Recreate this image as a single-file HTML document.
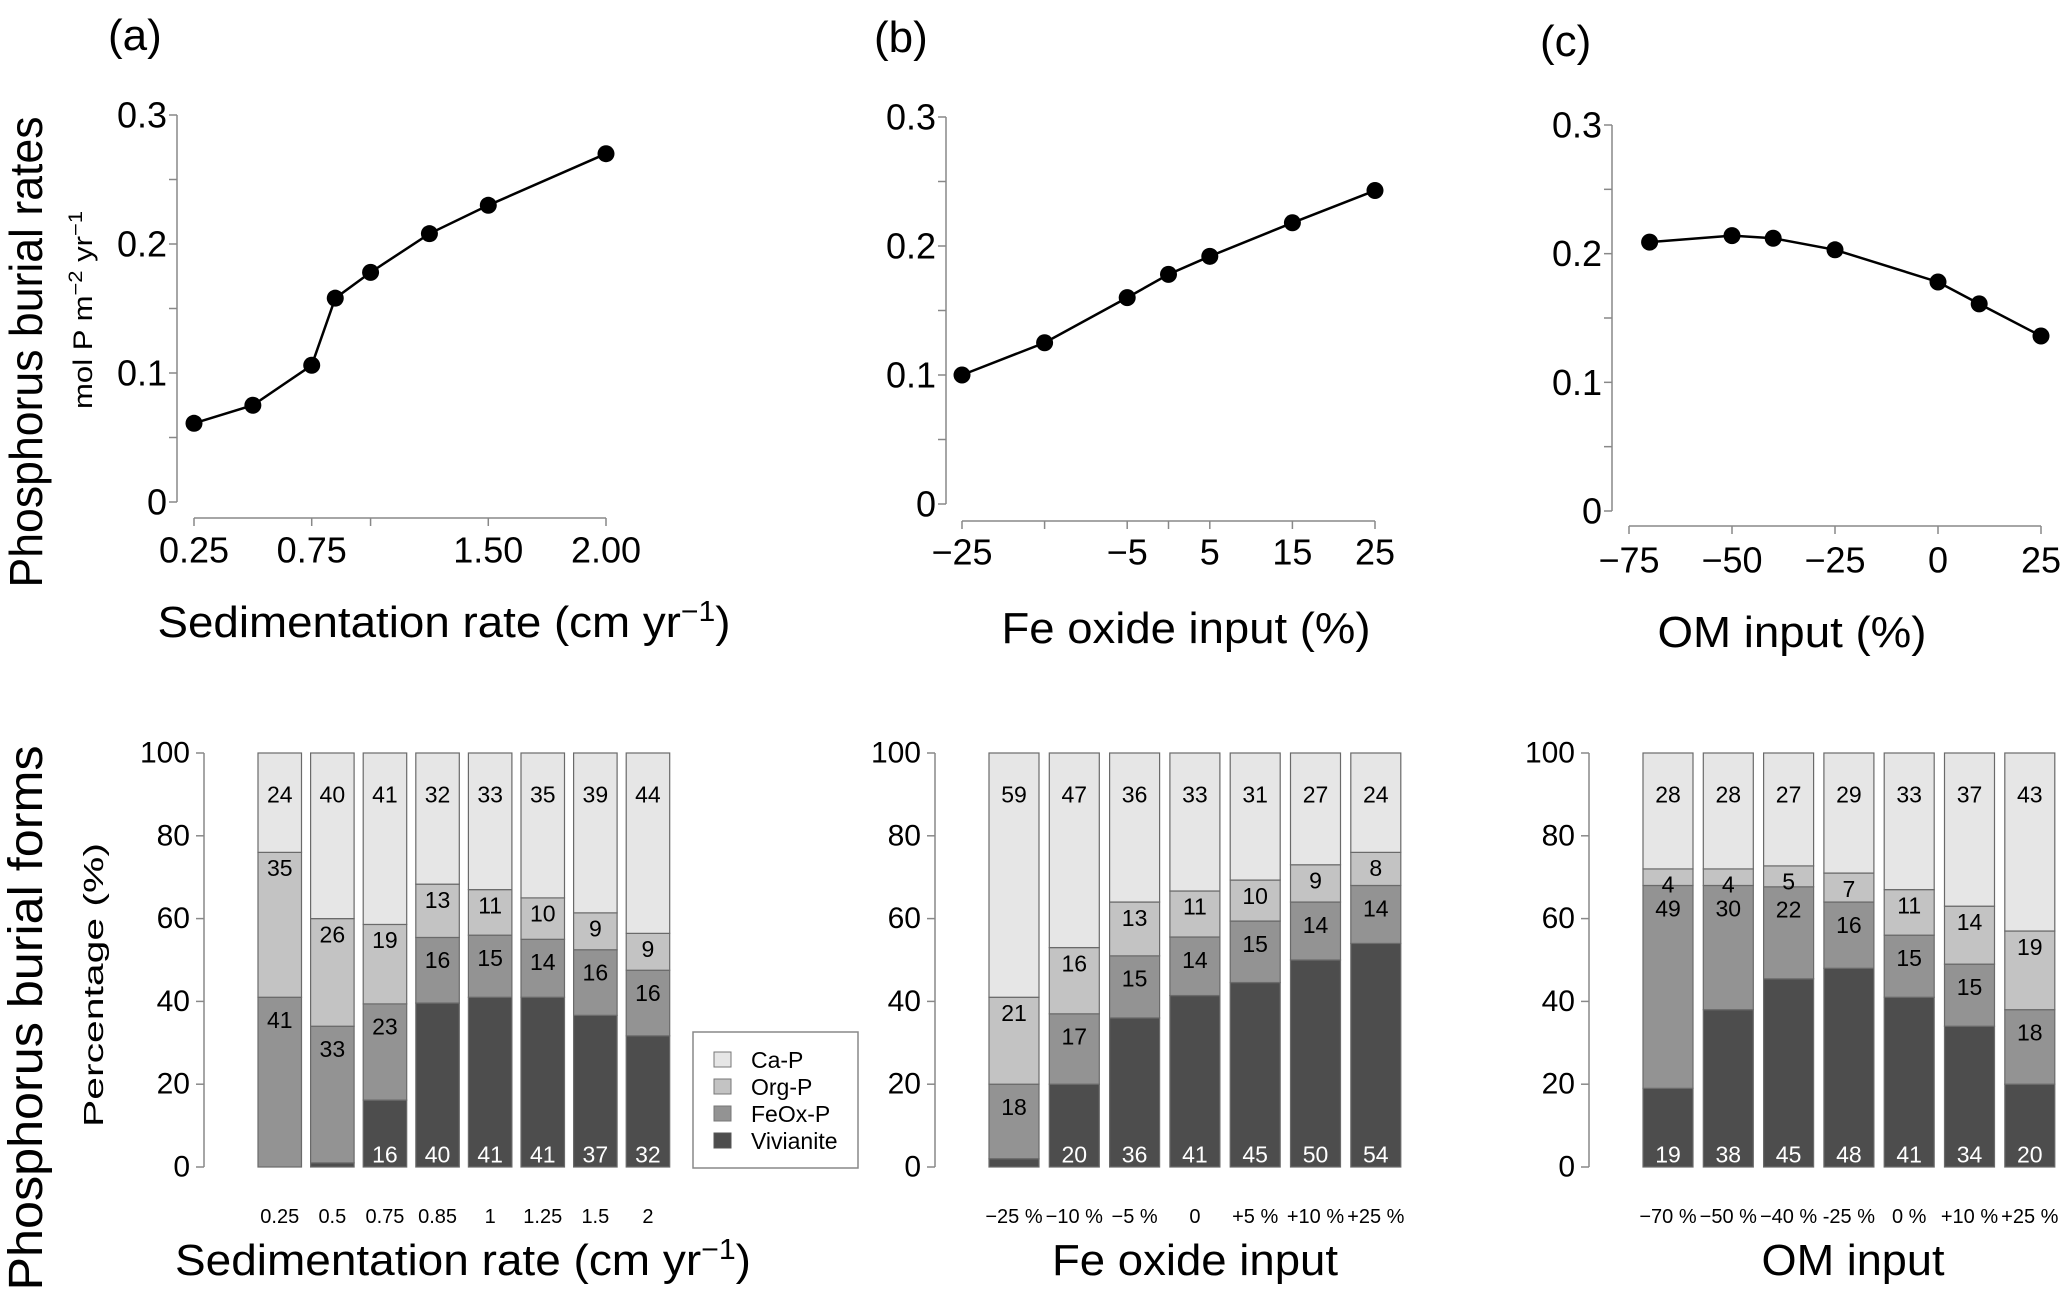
<!DOCTYPE html>
<html><head><meta charset="utf-8"><style>
html,body{margin:0;padding:0;background:#fff;}
svg{display:block;font-family:"Liberation Sans",Arial,sans-serif;}
</style></head><body>
<svg id="fig" width="2067" height="1294" viewBox="0 0 2067 1294" xmlns="http://www.w3.org/2000/svg">
<rect width="2067" height="1294" fill="#fff"/>
<text x="108" y="50" font-size="44">(a)</text>
<text x="874" y="52" font-size="44">(b)</text>
<text x="1540" y="56" font-size="44">(c)</text>
<text transform="translate(42,352) rotate(-90)" text-anchor="middle" font-size="46" textLength="471" lengthAdjust="spacingAndGlyphs">Phosphorus burial rates</text>
<text transform="translate(92,310) rotate(-90)" text-anchor="middle" font-size="27" textLength="198" lengthAdjust="spacingAndGlyphs">mol P m<tspan baseline-shift="super" font-size="19">−2</tspan> yr<tspan baseline-shift="super" font-size="19">−1</tspan></text>
<text transform="translate(42,1018) rotate(-90)" text-anchor="middle" font-size="48" textLength="545" lengthAdjust="spacingAndGlyphs">Phosphorus burial forms</text>
<text transform="translate(103,985) rotate(-90)" text-anchor="middle" font-size="28" textLength="284" lengthAdjust="spacingAndGlyphs">Percentage (%)</text>
<text x="444" y="637" text-anchor="middle" font-size="44" textLength="573" lengthAdjust="spacingAndGlyphs">Sedimentation rate (cm yr<tspan baseline-shift="super" font-size="29">−1</tspan>)</text>
<text x="1186" y="643" text-anchor="middle" font-size="44" textLength="369" lengthAdjust="spacingAndGlyphs">Fe oxide input (%)</text>
<text x="1792" y="647" text-anchor="middle" font-size="44" textLength="269" lengthAdjust="spacingAndGlyphs">OM input (%)</text>
<text x="463" y="1275" text-anchor="middle" font-size="44" textLength="576" lengthAdjust="spacingAndGlyphs">Sedimentation rate (cm yr<tspan baseline-shift="super" font-size="29">−1</tspan>)</text>
<text x="1195" y="1275" text-anchor="middle" font-size="44" textLength="286" lengthAdjust="spacingAndGlyphs">Fe oxide input</text>
<text x="1853" y="1275" text-anchor="middle" font-size="44" textLength="183" lengthAdjust="spacingAndGlyphs">OM input</text>
<g>
<rect x="693" y="1032" width="165" height="136" fill="#fff" stroke="#888" stroke-width="1.5"/>
<rect x="714" y="1052" width="17" height="15" fill="#e6e6e6" stroke="#777"/>
<text x="751" y="1060" dominant-baseline="central" font-size="23">Ca-P</text>
<rect x="714" y="1079" width="17" height="15" fill="#c3c3c3" stroke="#777"/>
<text x="751" y="1087" dominant-baseline="central" font-size="23">Org-P</text>
<rect x="714" y="1106" width="17" height="15" fill="#939393" stroke="#777"/>
<text x="751" y="1114" dominant-baseline="central" font-size="23">FeOx-P</text>
<rect x="714" y="1133" width="17" height="15" fill="#4d4d4d" stroke="#555"/>
<text x="751" y="1141" dominant-baseline="central" font-size="23">Vivianite</text>
</g>
</svg>
<script>
// ---- line chart data ----
const aX = [0.25, 0.5, 0.75, 0.85, 1, 1.25, 1.5, 2];
const aY = [0.061, 0.075, 0.106, 0.158, 0.178, 0.208, 0.230, 0.270];
const aTicks = [0.25, 0.75, 1, 1.5, 2];
const aTickLabels = ["0.25", "0.75", "", "1.50", "2.00"];
const bX = [-25, -15, -5, 0, 5, 15, 25];
const bY = [0.100, 0.125, 0.160, 0.178, 0.192, 0.218, 0.243];
const bTicks = [-25, -15, -5, 0, 5, 15, 25];
const bTickLabels = ["−25", "", "−5", "", "5", "15", "25"];
const cX = [-70, -50, -40, -25, 0, 10, 25];
const cY = [0.209, 0.214, 0.212, 0.203, 0.178, 0.161, 0.136];
const cTicks = [-75, -50, -25, 0, 25];
const cTickLabels = ["−75", "−50", "−25", "0", "25"];
const yTicks = [0, 0.05, 0.1, 0.15, 0.2, 0.25, 0.3];
const yTickLabels = ["0", "", "0.1", "", "0.2", "", "0.3"];
// ---- stacked bar data (Vivianite, FeOx-P, Org-P, Ca-P) ----
const aCats = ["0.25", "0.5", "0.75", "0.85", "1", "1.25", "1.5", "2"];
const aViv = [0, 1, 16, 40, 41, 41, 37, 32];
const aFe = [41, 33, 23, 16, 15, 14, 16, 16];
const aOrg = [35, 26, 19, 13, 11, 10, 9, 9];
const aCa = [24, 40, 41, 32, 33, 35, 39, 44];
const bCats = ["−25 %", "−10 %", "−5 %", "0", "+5 %", "+10 %", "+25 %"];
const bViv = [2, 20, 36, 41, 45, 50, 54];
const bFe = [18, 17, 15, 14, 15, 14, 14];
const bOrg = [21, 16, 13, 11, 10, 9, 8];
const bCa = [59, 47, 36, 33, 31, 27, 24];
const cCats = ["−70 %", "−50 %", "−40 %", "-25 %", "0 %", "+10 %", "+25 %"];
const cViv = [19, 38, 45, 48, 41, 34, 20];
const cFe = [49, 30, 22, 16, 15, 15, 18];
const cOrg = [4, 4, 5, 7, 11, 14, 19];
const cCa = [28, 28, 27, 29, 33, 37, 43];
const pctTicks = [0, 20, 40, 60, 80, 100];

const NS = "http://www.w3.org/2000/svg";
const svg = document.getElementById("fig");
function mk(tag, attrs, parent) {
  const e = document.createElementNS(NS, tag);
  for (const k in attrs) e.setAttribute(k, attrs[k]);
  (parent || svg).appendChild(e);
  return e;
}

function linePanel(id, xs, ys, xt, xtl, geo) {
  const g = mk("g", {});
  
  
  const sx = v => geo.px0 + (v - geo.d0) / (geo.d1 - geo.d0) * (geo.px1 - geo.px0);
  const sy = v => geo.y0 + v / 0.3 * (geo.y3 - geo.y0);
  const ya = mk("line", {x1: geo.ax, x2: geo.ax, y1: sy(0), y2: sy(0.3), stroke: "#888", "stroke-width": 1.5}, g);
  
  
  yTicks.forEach((t, i) => {
    mk("line", {x1: geo.ax - 8, x2: geo.ax, y1: sy(t), y2: sy(t), stroke: "#888", "stroke-width": 1.5}, g);
    if (yTickLabels[i]) {
      const tx = mk("text", {x: geo.ax - 10, y: sy(t), "text-anchor": "end", "dominant-baseline": "central", "font-size": 36}, g);
      
      
      tx.textContent = yTickLabels[i];
    }
  });
  const xa = mk("line", {x1: sx(xt[0]), x2: sx(xt[xt.length - 1]), y1: geo.xy, y2: geo.xy, stroke: "#888", "stroke-width": 1.5}, g);
  
  
  xt.forEach((t, i) => {
    mk("line", {x1: sx(t), x2: sx(t), y1: geo.xy, y2: geo.xy + 8, stroke: "#888", "stroke-width": 1.5}, g);
    if (xtl[i]) {
      const tx = mk("text", {x: sx(t), y: geo.xly, "text-anchor": "middle", "dominant-baseline": "central", "font-size": 36}, g);
      
      
      tx.textContent = xtl[i];
    }
  });
  const pts = xs.map((x, i) => sx(x) + "," + sy(ys[i])).join(" ");
  const pl = mk("polyline", {points: pts, fill: "none", stroke: "#000", "stroke-width": 2.5}, g);
  
  
  xs.forEach((x, i) => {
    const c = mk("circle", {cx: sx(x), cy: sy(ys[i]), r: 8.5, fill: "#000"}, g);
    
    
  });
}

linePanel("a", aX, aY, aTicks, aTickLabels, {d0: 0.25, d1: 2, px0: 194, px1: 606, y0: 502, y3: 115, ax: 177, xy: 518, xly: 550});
linePanel("b", bX, bY, bTicks, bTickLabels, {d0: -25, d1: 25, px0: 962, px1: 1375, y0: 504, y3: 117, ax: 946, xy: 521, xly: 552});
linePanel("c", cX, cY, cTicks, cTickLabels, {d0: -75, d1: 25, px0: 1629, px1: 2041, y0: 511, y3: 125, ax: 1612, xy: 526, xly: 560});

const fills = ["#4d4d4d", "#939393", "#c3c3c3", "#e6e6e6"];
const segNames = ["vivianite", "feox-p", "org-p", "ca-p"];
function barPanel(id, cats, series, geo) {
  const g = mk("g", {});
  
  
  const sy = v => 1167 - v / 100 * (1167 - 753);
  const ya = mk("line", {x1: geo.ax, x2: geo.ax, y1: sy(0), y2: sy(100), stroke: "#888", "stroke-width": 1.5}, g);
  
  
  pctTicks.forEach(t => {
    mk("line", {x1: geo.ax - 8, x2: geo.ax, y1: sy(t), y2: sy(t), stroke: "#888", "stroke-width": 1.5}, g);
    const tx = mk("text", {x: geo.ax - 14, y: sy(t), "text-anchor": "end", "dominant-baseline": "central", "font-size": 30}, g);
    
    
    tx.textContent = t;
  });
  cats.forEach((cat, i) => {
    const x = geo.x0 + i * geo.step;
    const vals = series.map(s => s[i]);
    const total = vals.reduce((a, b) => a + b, 0);
    let cum = 0;
    vals.forEach((v, k) => {
      const lo = cum / total * 100, hi = (cum + v) / total * 100;
      cum += v;
      const r = mk("rect", {x: x, y: sy(hi), width: geo.w, height: sy(lo) - sy(hi), fill: fills[k], stroke: "#6a6a6a", "stroke-width": 1.2}, g);
      
      
      let ly;
      if (k === 0) ly = sy(v < 4 && v > 0 ? 5 : 3);
      else if (k === 3) ly = sy(90);
      else if (k === 2) ly = sy(hi - 3.8);
      else ly = sy(hi - 5.5);
      const t = mk("text", {x: x + geo.w / 2, y: ly, "text-anchor": "middle", "dominant-baseline": "central", "font-size": 23, fill: k === 0 ? "#fff" : "#000"}, g);
      
      
      t.textContent = v;
    });
    const cl = mk("text", {x: x + geo.w / 2, y: 1217, "text-anchor": "middle", "dominant-baseline": "central", "font-size": 20}, g);
    
    
    cl.textContent = cat;
  });
}
barPanel("a", aCats, [aViv, aFe, aOrg, aCa], {ax: 204, x0: 258, step: 52.6, w: 43.5});
barPanel("b", bCats, [bViv, bFe, bOrg, bCa], {ax: 935, x0: 989, step: 60.3, w: 50});
barPanel("c", cCats, [cViv, cFe, cOrg, cCa], {ax: 1589, x0: 1643, step: 60.3, w: 50});
</script>
</body></html>
